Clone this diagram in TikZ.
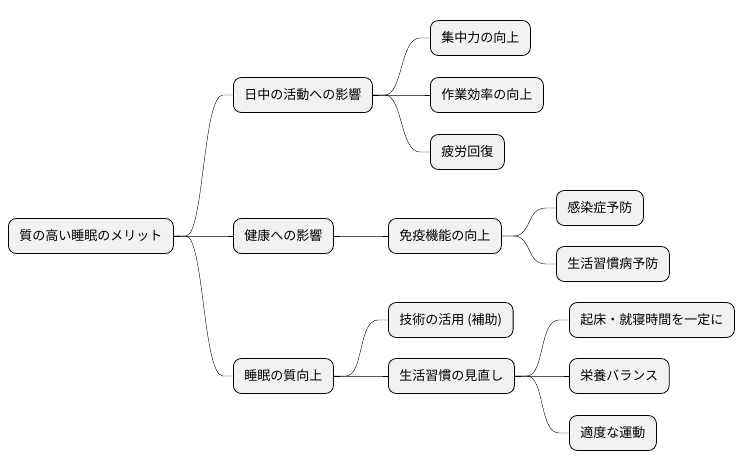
\documentclass[tikz,border=0pt]{standalone}
\usepackage{fontspec}
\setmainfont{Noto Sans CJK JP}
\usetikzlibrary{positioning, calc}

\tikzset{
    topic/.style={draw, thick, rounded corners=8pt, fill=black!5, minimum height=35pt,
        inner xsep=11pt, anchor=west, font=\fontsize{13}{15}\selectfont},
    branch/.style={thin},
}
\newcommand{\linkto}[2]{\draw[branch] (#1.east) -- ++(12,0) .. controls ++(18,0) and ($(#2.west)+(-30,0)$) .. ($(#2.west)+(-10,0)$) -- (#2.west);}

\begin{document}
\begin{tikzpicture}[x=1pt, y=-1pt]
    \useasboundingbox (0,0) rectangle (754,471);

    \node[topic] (root) at (8,236) {質の高い睡眠のメリット};

    \node[topic] (daytime) at (233,95) {日中の活動への影響};
    \node[topic] (health) at (233,236) {健康への影響};
    \node[topic] (quality) at (233,376) {睡眠の質向上};

    \node[topic] (focus) at (430,38) {集中力の向上};
    \node[topic] (work) at (430,95) {作業効率の向上};
    \node[topic] (fatigue) at (430,152) {疲労回復};

    \node[topic] (immune) at (388,236) {免疫機能の向上};
    \node[topic] (infect) at (556,208) {感染症予防};
    \node[topic] (lifedis) at (556,264) {生活習慣病予防};

    \node[topic] (tech) at (388,320) {技術の活用 (補助)};
    \node[topic] (habit) at (388,376) {生活習慣の見直し};
    \node[topic] (sleep) at (569,320) {起床・就寝時間を一定に};
    \node[topic] (food) at (569,376) {栄養バランス};
    \node[topic] (exercise) at (569,433) {適度な運動};

    % connectors
    \linkto{root}{daytime}
    \linkto{root}{health}
    \linkto{root}{quality}
    \linkto{daytime}{focus}
    \linkto{daytime}{work}
    \linkto{daytime}{fatigue}
    \linkto{health}{immune}
    \linkto{immune}{infect}
    \linkto{immune}{lifedis}
    \linkto{quality}{tech}
    \linkto{quality}{habit}
    \linkto{habit}{sleep}
    \linkto{habit}{food}
    \linkto{habit}{exercise}
\end{tikzpicture}
\end{document}
